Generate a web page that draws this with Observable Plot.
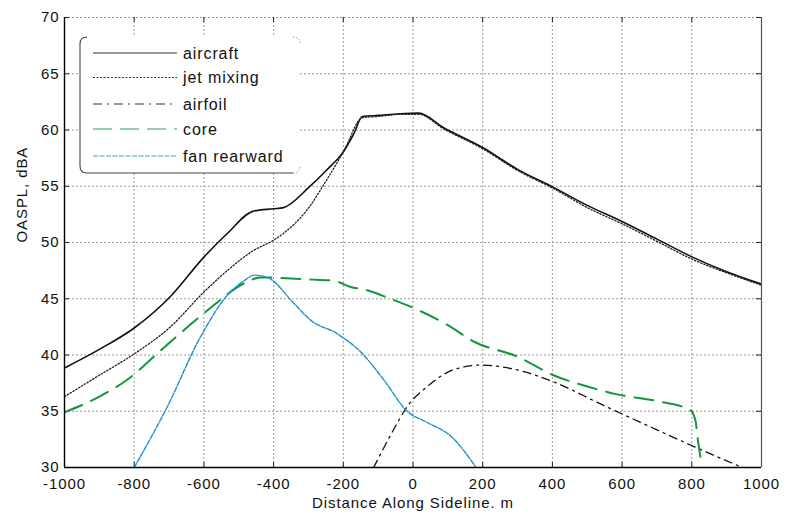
<!DOCTYPE html>
<html>
<head>
<meta charset="utf-8">
<script src="https://cdn.jsdelivr.net/npm/d3@7"></script>
<script src="https://cdn.jsdelivr.net/npm/@observablehq/plot@0.6"></script>
<style>
  html, body { margin: 0; padding: 0; background: #fff; }
  #chart { width: 790px; height: 519px; }
</style>
</head>
<body>
<div id="chart"></div>
<script>
// ---- data ----
const xTicks = [-1000, -800, -600, -400, -200, 0, 200, 400, 600, 800, 1000];
const yTicks = [30, 35, 40, 45, 50, 55, 60, 65, 70];

const aircraftX = [-1000, -900, -800, -696, -600, -533, -457, -400, -372, -299, -249, -199, -171, -145, -100, -36, 16, 88, 202, 300, 403, 500, 604, 700, 802, 900, 1000];
const aircraftY = [38.85, 40.5, 42.4, 45.2, 48.7, 50.8, 52.8, 53.0, 53.1, 54.9, 56.4, 58.1, 59.6, 61.2, 61.3, 61.45, 61.5, 60.2, 58.4, 56.5, 54.9, 53.3, 51.8, 50.3, 48.7, 47.4, 46.3];

const jetX = [-1000, -900, -800, -696, -600, -533, -457, -400, -372, -299, -249, -199, -145, -100, -36, 16, 88, 202, 300, 403, 500, 604, 700, 802, 900, 1000];
const jetY = [36.3, 38.2, 40.1, 42.5, 45.6, 47.5, 49.3, 50.2, 50.8, 53.1, 55.5, 58.1, 61.1, 61.2, 61.4, 61.4, 60.1, 58.3, 56.4, 54.8, 53.1, 51.6, 50.1, 48.5, 47.3, 46.2];

const airfoilX = [-113, -55, -17, 41, 117, 194, 280, 404, 538, 604, 700, 796, 945];
const airfoilY = [30, 33.4, 35.4, 37.2, 38.7, 39.1, 38.8, 37.6, 35.65, 34.7, 33.35, 32.0, 30];

const coreX = [-1000, -900, -820, -724, -600, -476, -438, -285, -228, -179, -131, -65, 0, 100, 174, 300, 403, 500, 586, 700, 796, 811, 816, 825];
const coreY = [34.9, 36.3, 37.8, 40.4, 43.7, 46.5, 46.9, 46.7, 46.6, 46.05, 45.75, 45.0, 44.2, 42.65, 41.2, 39.85, 38.2, 37.2, 36.5, 35.9, 35.1, 34.1, 32.8, 30.9];

const fanX = [-800, -705, -610, -533, -480, -457, -418, -342, -294, -218, -151, -84, -17, 41, 108, 179];
const fanY = [30, 35.4, 41.6, 45.3, 46.7, 47.1, 46.9, 44.6, 43.1, 41.9, 40.3, 37.8, 35.0, 34.0, 32.8, 30.1];

const seriesNames = ["aircraft", "jet mixing", "airfoil", "core", "fan rearward"];
const xLabel = "Distance Along Sideline. m";
const yLabel = "OASPL, dBA";

// ---- styles ----
const styles = {
  "aircraft":     {stroke: "#111111", dash: null,        width: 1.6, legendStroke: "#333333", legendDash: null,        legendWidth: 1.1},
  "jet mixing":   {stroke: "#222222", dash: "1.4,1.9",   width: 1.3, legendStroke: "#333333", legendDash: "2,1.6",     legendWidth: 1},
  "airfoil":      {stroke: "#111111", dash: "8,5,2,5",   width: 1.3, legendStroke: "#333333", legendDash: "9,5,2,5",   legendWidth: 1},
  "core":         {stroke: "#12973f", dash: "19,10",     width: 2.0, legendStroke: "#2aa05a", legendDash: "19,8",      legendWidth: 1.2},
  "fan rearward": {stroke: "#1f8fd6", dash: "5,1.6",     width: 1.4, legendStroke: "#3aa0dc", legendDash: "5,1.5",     legendWidth: 1.2}
};

const zip = (xs, ys) => xs.map((x, i) => ({x, y: ys[i]}));
const seriesData = {
  "aircraft": zip(aircraftX, aircraftY),
  "jet mixing": zip(jetX, jetY),
  "airfoil": zip(airfoilX, airfoilY),
  "core": zip(coreX, coreY),
  "fan rearward": zip(fanX, fanY)
};

const W = 790, H = 519;
const mTop = 17, mBottom = 52, mLeft = 64, mRight = 29;
const frameW = W - mLeft - mRight, frameH = H - mTop - mBottom;
const tickLen = 5;

const lineMarks = seriesNames.map(n => Plot.line(seriesData[n], {
  x: "x", y: "y",
  curve: "monotone-x",
  stroke: styles[n].stroke,
  strokeWidth: styles[n].width,
  strokeDasharray: styles[n].dash,
  strokeLinejoin: "round",
  clip: true
}));

const fmt = d => String(d);

const chart = Plot.plot({
  width: W, height: H,
  marginTop: mTop, marginBottom: mBottom, marginLeft: mLeft, marginRight: mRight,
  style: {fontFamily: "'Liberation Sans', Arial, sans-serif", fontSize: "15px", letterSpacing: "0.9px", background: "#fff", color: "#111"},
  x: {domain: [-1000, 1000]},
  y: {domain: [30, 70]},
  marks: [
    // grid
    Plot.ruleX(xTicks, {stroke: "#9a9a9a", strokeWidth: 1, strokeDasharray: "2,2", strokeOpacity: 1}),
    Plot.ruleY(yTicks, {stroke: "#9a9a9a", strokeWidth: 1, strokeDasharray: "2,2", strokeOpacity: 1}),
    // inward ticks
    Plot.tickX(xTicks, {x: d => d, stroke: "#222", insetTop: frameH - tickLen}),
    Plot.tickX(xTicks, {x: d => d, stroke: "#222", insetBottom: frameH - tickLen}),
    Plot.tickY(yTicks, {y: d => d, stroke: "#222", insetRight: frameW - tickLen}),
    Plot.tickY(yTicks, {y: d => d, stroke: "#222", insetLeft: frameW - tickLen}),
    // axes
    Plot.axisX(xTicks, {anchor: "bottom", tickSize: 0, tickPadding: 10.5, fontSize: 15, tickFormat: fmt, label: null}),
    Plot.axisY(yTicks, {anchor: "left", tickSize: 0, tickPadding: 5, fontSize: 15, tickFormat: fmt, label: null}),
    // series
    ...lineMarks,
    // box lines
    Plot.ruleX([1000], {stroke: "#555", strokeWidth: 1.2}),
    Plot.ruleX([-1000], {stroke: "#000", strokeWidth: 1.4}),
    Plot.ruleY([30], {stroke: "#000", strokeWidth: 1.4}),
    // axis titles
    Plot.text([xLabel], {frameAnchor: "bottom", dy: 35.5, fontSize: 15, lineAnchor: "middle", fill: "#111"}),
    Plot.text([yLabel], {frameAnchor: "left", dx: -42, rotate: -90, fontSize: 15, lineAnchor: "middle", fill: "#111"})
  ]
});

// ---- legend, drawn into the plot SVG ----
const svg = d3.select(chart);
const lg = svg.append("g").attr("class", "legend").attr("text-anchor", "start");
const bx = 80, by = 37, bw = 220, bh = 136, r = 7;
lg.append("rect").attr("x", bx).attr("y", by).attr("width", bw).attr("height", bh)
  .attr("rx", r).attr("fill", "#fff").attr("stroke", "none");
lg.append("path")
  .attr("d", `M${bx + r},${by} Q${bx},${by} ${bx},${by + r} L${bx},${by + bh - r} Q${bx},${by + bh} ${bx + r},${by + bh} L${bx + bw - r},${by + bh}`)
  .attr("fill", "none").attr("stroke", "#444").attr("stroke-width", 1.1);
lg.append("path")
  .attr("d", `M${bx + bw - r},${by + bh} Q${bx + bw},${by + bh} ${bx + bw},${by + bh - r}`)
  .attr("fill", "none").attr("stroke", "#666").attr("stroke-width", 1).attr("stroke-dasharray", "1,2");
lg.append("path")
  .attr("d", `M${bx + bw - r},${by} Q${bx + bw},${by} ${bx + bw},${by + r}`)
  .attr("fill", "none").attr("stroke", "#666").attr("stroke-width", 1).attr("stroke-dasharray", "1,2");
const rowY = [53, 77.5, 104, 129, 156];
seriesNames.forEach((n, i) => {
  const s = styles[n];
  lg.append("line").attr("x1", 93).attr("x2", 177).attr("y1", rowY[i]).attr("y2", rowY[i])
    .attr("stroke", s.legendStroke).attr("stroke-width", s.legendWidth)
    .attr("stroke-dasharray", s.legendDash);
  lg.append("text").attr("x", 183).attr("y", rowY[i]).attr("dy", "0.35em")
    .attr("text-anchor", "start")
    .attr("font-size", 16).attr("fill", "#111").text(n);
});

document.getElementById("chart").appendChild(chart);
</script>
</body>
</html>
